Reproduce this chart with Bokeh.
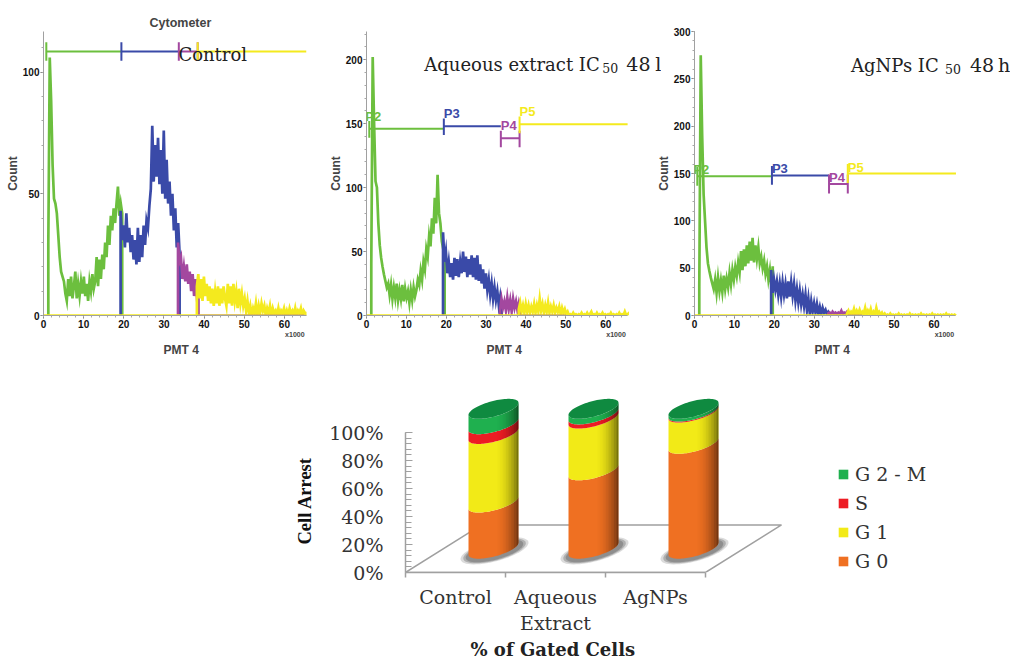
import numpy as np
from bokeh.plotting import figure
from bokeh.layouts import row, column
from bokeh.embed import file_html
from bokeh.resources import INLINE
from bokeh.models import (Label, Legend, LegendItem, LinearAxis, FixedTicker, Title,
                          SingleIntervalTicker, PrintfTickFormatter, Range1d)

# ---------- histogram data (Count per PMT 4 bin) ----------
GATE_EDGES = [0.7, 19.4, 33.7, 38.4, 65.5]

CTRL_P2 = [30,106,88,62,48,46,42,33,24,18,16,14,9,6,15,8,16,7,12,18,7,13,8,14,9,16,8,13,6,14,10,17,11,14,24,12,23,15,25,19,30,24,37,29,41,35,44,38,46,53,41,46,42]
CTRL_P3 = [43,31,37,28,42,30,36,26,33,23,31,21,36,22,33,24,37,29,39,36,45,52,78,55,70,57,73,54,68,50,76,48,64,46,55,41,50,35,44,28,38,25]
CTRL_P4 = [30,22,24,15,20,14,21,13,18,10,17,8,15,7,11]
CTRL_P5 = [12,17,7,15,6,16,8,13,6,12,5,11,4,10,5,12,4,11,5,12,7,4,13,5,12,4,13,6,10,3,11,5,9,4,7,2,6,1,4,0,3,1,5,0,4,1,5,2,4,0,3,1,4,0,3,1,2,0,3,0,2,1,3,0,2,0,3,1,2,0,3,0,2,1,3,0,2,1,1]

AQ_P2 = [40,202,150,105,100,72,55,45,38,32,27,22,25,16,24,13,22,14,25,12,20,13,24,11,21,14,19,10,20,12,22,15,20,28,24,35,28,42,36,52,46,62,54,76,64,92,72,110,80,72,58,52,47]
AQ_P3 = [65,42,50,33,42,30,41,28,45,31,44,30,42,33,50,34,46,30,44,32,47,30,45,28,47,27,40,25,36,21,33,20,28,16,25,13,22,12,19,8,15,5]
AQ_P4 = [4,13,6,11,4,14,5,12,3,13,6,11,4,10,5]
AQ_P5 = [5,10,3,8,2,9,3,8,2,7,3,9,2,8,3,13,4,9,2,8,3,10,2,7,3,8,2,6,3,7,1,6,2,5,1,3,0,1,0,2,0,1,0,1,0,2,0,1,0,2,0,1,3,0,1,0,2,0,1,0,2,0,1,0,1,0,2,0,1,0,1,0,2,0,1,0,3,0,1]

AG_P2 = [30,275,190,128,100,72,55,47,40,34,28,38,24,40,26,37,25,42,28,39,30,45,33,48,38,51,42,56,46,68,48,70,52,74,55,78,58,82,56,74,60,72,55,62,50,58,44,52,38,48,32,52]
AG_P3 = [48,24,38,27,36,22,34,20,35,22,33,18,36,20,35,21,33,16,28,14,26,12,22,10,22,6,18,2,15,4,13,3,12,2,9,1,8,3,6,1,4,2]
AG_P4 = [2,3,1,4,2,3,1,3,2,5,1,3,2,4,2]
AG_P5 = [2,5,1,4,2,7,1,5,2,6,1,4,2,8,1,5,2,7,1,4,1,8,2,4,1,3,0,2,0,1,0,2,0,1,0,1,0,2,0,1,0,1,0,1,0,2,0,1,0,1,0,1,0,2,0,1,0,1,0,1,0,2,0,1,0,1,0,1,0,1,0,2,0,1,0,1,0,1,0]

# gate marker levels: P2, P3, P4, P5
CTRL_GATE_Y = [108.5, 108.5, 108.5, 108.5]
AQ_GATE_Y = [146, 148, 138.5, 149.5]
AG_GATE_Y = [147, 148, 139, 150]

# ---------- stacked bars (percent of gated cells) ----------
CATEGORIES = ["Control", "Aqueous\nExtract", "AgNPs"]
PHASES = ["G 0", "G 1", "S", "G 2 - M"]
G0 = [33, 56, 75]
G1 = [49, 37, 22.3]
S = [7, 3, 0.7]
G2M = [11, 4, 2]

GREEN, BLUE, PURPLE, YELLOW = "#6cbf3e", "#3a4aa8", "#a3489f", "#f4ea1e"
AXIS_GREY = "#a0a0a0"
SERIF = "DejaVu Serif"
SANS = "Liberation Sans"
XMAX = 65.5


def style_axis(ax):
    ax.major_tick_line_color = "#707070"
    ax.minor_tick_line_color = "#a8a8a8"
    ax.axis_line_color = AXIS_GREY
    ax.major_tick_in, ax.major_tick_out = 0, 3
    ax.minor_tick_in, ax.minor_tick_out = 0, 2
    ax.major_label_text_font = SANS
    ax.major_label_text_font_size = "10px"
    ax.major_label_text_font_style = "bold"
    ax.major_label_text_color = "#111111"
    ax.major_label_standoff = 1


def panel(width, left, right, top, bottom, xend, ymax, yticks):
    p = figure(width=width, height=365, output_backend="svg", toolbar_location=None,
               x_range=Range1d(0, xend), y_range=Range1d(0, ymax),
               min_border_left=left, min_border_right=right,
               min_border_top=top, min_border_bottom=bottom)
    p.outline_line_color = None
    p.grid.visible = False
    p.xaxis.ticker = SingleIntervalTicker(interval=10, num_minor_ticks=5)
    p.xaxis.bounds = (0, XMAX)
    p.yaxis.ticker = FixedTicker(ticks=yticks, minor_ticks=list(range(0, int(ymax) + 1, 10)))
    p.yaxis.axis_label = "Count"
    style_axis(p.xaxis[0])
    style_axis(p.yaxis[0])
    p.yaxis.axis_label_text_font = SANS
    p.yaxis.axis_label_text_font_size = "12px"
    p.yaxis.axis_label_text_font_style = "bold"
    p.yaxis.axis_label_standoff = 0
    scale_ax = LinearAxis(ticker=FixedTicker(ticks=[62.6]), major_label_overrides={62.6: "x1000"})
    scale_ax.axis_line_color = None
    scale_ax.major_tick_line_color = None
    scale_ax.minor_tick_line_color = None
    scale_ax.major_tick_in, scale_ax.major_tick_out = 0, 0
    scale_ax.major_label_standoff = 0
    scale_ax.major_label_text_font = SANS
    scale_ax.major_label_text_font_size = "7px"
    scale_ax.major_label_text_font_style = "bold"
    p.add_layout(scale_ax, "below")
    p.add_layout(Title(text="PMT 4", align="left", offset=120, standoff=0, text_font=SANS,
                       text_font_size="12px", text_font_style="bold"), "below")
    return p


def histogram(p, gates, width=2.7):
    spans = [(1.2, 19.6), (19.2, 33.9), (33.5, 38.6), (38.2, XMAX)]
    for vals, (a, b), col in zip(gates, spans, [GREEN, BLUE, PURPLE, YELLOW]):
        x = np.linspace(a, b, len(vals))
        xs = np.r_[a, x, b]
        ys = np.r_[0, vals, 0]
        p.line(xs, ys, line_color=col, line_width=width, line_join="miter")


def gate_markers(p, levels, up, down, labels=True, label_dy=5):
    cols = [GREEN, BLUE, PURPLE, YELLOW]
    for i, col in enumerate(cols):
        a, b = GATE_EDGES[i], GATE_EDGES[i + 1]
        y = levels[i]
        p.line([a, b], [y, y], line_color=col, line_width=2)
        p.line([a, a], [y - down, y + up], line_color=col, line_width=2)
        if i == 2:
            p.line([b, b], [y - down, y + up], line_color=col, line_width=2)
    if labels:
        for i, (txt, col) in enumerate(zip(["P2", "P3", "P4", "P5"], cols)):
            p.add_layout(Label(x=GATE_EDGES[i], y=levels[i], x_offset=-4 if i == 0 else 0,
                               y_offset=label_dy, text=txt,
                               text_color=col, text_font=SANS,
                               text_font_size="13px", text_font_style="bold"))


def baseline(p, purple_end):
    p.line([0, XMAX], [0, 0], line_color=YELLOW, line_width=2.5)
    p.line([38.4, purple_end], [0, 0], line_color=PURPLE, line_width=1.5)


def serif_label(p, x, y, txt, size, xo=0, yo=0):
    p.add_layout(Label(x=x, y=y, x_offset=xo, y_offset=yo + 7, text=txt, text_font=SERIF,
                       text_font_size=f"{size}px", text_color="#222222",
                       text_baseline="alphabetic", level="overlay"))


# ---------- Control ----------
p1 = panel(325, 43, 19, 30, 48, XMAX, 116.7, [0, 50, 100])
p1.add_layout(Title(text="Cytometer", align="left", offset=106, standoff=3, text_font=SANS,
                    text_font_size="12.5px", text_font_style="bold"), "above")
histogram(p1, [CTRL_P2, CTRL_P3, CTRL_P4, CTRL_P5])
baseline(p1, 65)
gate_markers(p1, CTRL_GATE_Y, 3.8, 3.8, labels=False)
serif_label(p1, 33.6, 104.2, "Control", 18)

# ---------- Aqueous extract ----------
p2 = panel(336, 40, 0, 29, 50, 74, 222, [0, 50, 100, 150, 200])
histogram(p2, [AQ_P2, AQ_P3, AQ_P4, AQ_P5])
baseline(p2, 50)
gate_markers(p2, AQ_GATE_Y, 6, 7)
serif_label(p2, 14.5, 191, "Aqueous extract IC", 18)
serif_label(p2, 14.5, 191, "50", 12.5, xo=178, yo=-4)
serif_label(p2, 14.5, 191, "48", 19, xo=202)
serif_label(p2, 14.5, 191, "l", 19, xo=231)

# ---------- AgNPs ----------
p3 = panel(357, 38, 0, 31, 50, 79.16, 300, [0, 50, 100, 150, 200, 250, 300])
p3.margin = (0, 0, 0, -8)
p3.border_fill_color = None
p3.background_fill_color = None
histogram(p3, [AG_P2, AG_P3, AG_P4, AG_P5])
baseline(p3, 42)
gate_markers(p3, AG_GATE_Y, 10, 10, label_dy=-1)
serif_label(p3, 39.2, 257, "AgNPs IC", 18)
serif_label(p3, 39.2, 257, "50", 12.5, xo=94, yo=-4)
serif_label(p3, 39.2, 257, "48", 19, xo=119)
serif_label(p3, 39.2, 257, "h", 19, xo=147)

# ---------- 3-D style stacked cylinders ----------
R, DX, DY = 0.25, 0.38, 17.0      # radius (category units), half floor depth
TILT, B = 4.3, 5.7                # ellipse skew/half-height in % units
FLOOR_X = [0, 3, 3 + 2 * DX, 2 * DX]
FLOOR_Y = [0, 0, 2 * DY, 2 * DY]

p4 = figure(width=1010, height=294, output_backend="svg", toolbar_location=None,
            x_range=Range1d(0, 6.05), y_range=Range1d(0, 178 / 1.407),
            min_border_left=405, min_border_right=0, min_border_top=30, min_border_bottom=86)
p4.outline_line_color = None
p4.grid.visible = False
p4.xaxis.visible = False

yax = p4.yaxis[0]
yax.ticker = SingleIntervalTicker(interval=20, num_minor_ticks=5)
yax.formatter = PrintfTickFormatter(format="%d%%")
yax.bounds = (0, 100)
yax.axis_line_color = AXIS_GREY
yax.axis_line_width = 1.5
yax.major_tick_line_color = AXIS_GREY
yax.minor_tick_line_color = AXIS_GREY
yax.major_tick_in, yax.major_tick_out = 7, 0
yax.minor_tick_in, yax.minor_tick_out = 6, 0
yax.major_label_standoff = 22
yax.major_label_text_font = SERIF
yax.major_label_text_font_size = "19px"
yax.major_label_text_color = "#333333"
p4.add_layout(Title(text="Cell Arrest", align="left", offset=28, standoff=24,
                    text_font="Liberation Serif", text_font_size="18.5px",
                    text_font_style="bold", text_color="#111111"), "left")

centres = [i + 0.5 for i in range(len(CATEGORIES))]
cat_ax = LinearAxis(ticker=FixedTicker(ticks=centres, minor_ticks=[0, 1, 2, 3]),
                    major_label_overrides=dict(zip(centres, CATEGORIES)), bounds=(0, 3))
cat_ax.axis_line_color = AXIS_GREY
cat_ax.axis_line_width = 1.5
cat_ax.major_tick_line_color = None
cat_ax.minor_tick_line_color = AXIS_GREY
cat_ax.minor_tick_line_width = 1.5
cat_ax.minor_tick_in, cat_ax.minor_tick_out = 0, 5
cat_ax.major_tick_in, cat_ax.major_tick_out = 0, 0
cat_ax.major_label_standoff = 8
cat_ax.major_label_text_font = SERIF
cat_ax.major_label_text_font_size = "19px"
cat_ax.major_label_text_color = "#333333"
p4.add_layout(cat_ax, "below")
p4.add_layout(Title(text="% of Gated Cells", align="left", offset=65, standoff=0,
                    text_font=SERIF, text_font_size="18px", text_font_style="bold",
                    text_color="#222222"), "below")

p4.patch(FLOOR_X, FLOOR_Y, fill_color=None, line_color=AXIS_GREY, line_width=1.5)


def ellipse_y(x, cx, level, sign=-1):
    c = np.clip((x - cx) / R, -1, 1)
    s = np.sqrt(1 - c ** 2)
    return level + TILT * c + sign * B * s


cx_all = [i + 0.5 + DX for i in range(3)]

# shadows
for grow, alpha in [(1.36, 0.25), (1.25, 0.4), (1.15, 0.5)]:
    xs, ys = [], []
    for cx in cx_all:
        t = np.linspace(0, 2 * np.pi, 60)
        xs.append((cx + 0.01 + R * grow * np.cos(t)).tolist())
        ys.append((DY - 1.5 + grow * (TILT * np.cos(t) + B * np.sin(t))).tolist())
    p4.patches(xs, ys, fill_color="#6e6e6e", fill_alpha=alpha, line_color=None)

# stacked bodies
series = [G0, G1, S, G2M]
colours = ["#ef7022", "#f2ea17", "#ed1c24", "#1fb04f"]
renderers = {}
low = np.zeros(3)
for name, vals, col in zip(PHASES, series, colours):
    high = low + np.array(vals)
    xs, ys = [], []
    for cx, a, b in zip(cx_all, low, high):
        x = cx + R * np.cos(np.linspace(np.pi, 0, 50))
        xs.append(np.r_[x, x[::-1]].tolist())
        ys.append(np.r_[ellipse_y(x, cx, DY + a), ellipse_y(x[::-1], cx, DY + b)].tolist())
    renderers[name] = p4.patches(xs, ys, fill_color=col, line_color=None)
    low = high

# cylinder shading: darker towards the right edge
edges = np.linspace(0.0, 1.0, 17)
xs, ys, alphas = [], [], []
for cx in cx_all:
    for e0, e1 in zip(edges[:-1], edges[1:]):
        x = np.linspace(cx + R * e0, cx + R * e1, 4)
        xs.append(np.r_[x, x[::-1]].tolist())
        ys.append(np.r_[ellipse_y(x, cx, DY), ellipse_y(x[::-1], cx, DY + low[0])].tolist())
        alphas.append(float(0.55 * ((e0 + e1) / 2) ** 2.2))
p4.patches(xs, ys, fill_color="#000000", fill_alpha=alphas, line_color=None)

# top faces
xs, ys = [], []
t = np.linspace(0, 2 * np.pi, 80)
for cx, tot in zip(cx_all, low):
    xs.append((cx + R * np.cos(t)).tolist())
    ys.append((DY + tot + TILT * np.cos(t) + B * np.sin(t)).tolist())
p4.patches(xs, ys, fill_color="#0f8a40", line_color=None)

legend = Legend(items=[LegendItem(label=n, renderers=[renderers[n]], index=0) for n in PHASES[::-1]],
                location=(432, 0), orientation="vertical", padding=0, margin=0, spacing=7,
                border_line_color=None, background_fill_alpha=0,
                glyph_width=12, glyph_height=12, label_height=16, label_standoff=6,
                label_text_font=SERIF, label_text_font_size="19px", label_text_color="#333333")
p4.add_layout(legend, "center")

open("out.html", "w").write(file_html(column(row(p1, p2, p3, spacing=0), p4, spacing=0), INLINE))
